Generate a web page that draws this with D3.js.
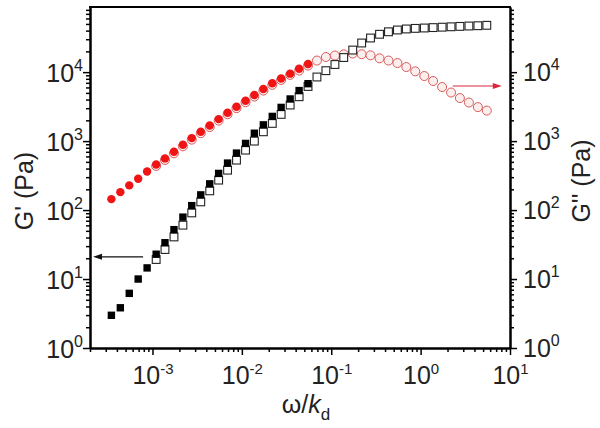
<!DOCTYPE html>
<html><head><meta charset="utf-8">
<script src="https://cdn.jsdelivr.net/npm/d3@7"></script>
<style>body{margin:0;background:#fff}svg{display:block}</style>
</head><body><svg id="c" width="600" height="428"></svg>
<script>
// ---- data ----
const omegaFilled = [3.47e-4, 4.37e-4, 5.50e-4, 6.92e-4, 8.71e-4, 1.10e-3, 1.38e-3, 1.74e-3, 2.19e-3, 2.75e-3,
  3.47e-3, 4.37e-3, 5.50e-3, 6.92e-3, 8.71e-3, 0.0110, 0.0138, 0.0174, 0.0219, 0.0275, 0.0347, 0.0437, 0.0550];
const gPrimeFilled = [2.98, 3.83, 6.2, 10.0, 14.5, 22.9, 33.6, 52, 79, 116, 166, 240, 340, 480, 670, 925, 1300, 1720, 2280, 3080, 4080, 5400, 6800];
const gDoubleFilled = [144, 182, 228, 284, 363, 459, 561, 700, 884, 1106, 1366, 1680, 2085, 2575, 3150, 3850, 4650, 5690, 6900, 8100, 9500, 11200, 13100];

const omegaOpen = [1.10e-3, 1.38e-3, 1.74e-3, 2.19e-3, 2.75e-3, 3.47e-3, 4.37e-3, 5.50e-3, 6.92e-3, 8.71e-3,
  0.0110, 0.0138, 0.0174, 0.0219, 0.0275, 0.0347, 0.0437, 0.0550, 0.0692, 0.0871,
  0.110, 0.138, 0.174, 0.219, 0.275, 0.347, 0.437, 0.550, 0.692, 0.871,
  1.10, 1.38, 1.74, 2.19, 2.75, 3.47, 4.37, 5.50];
const gPrimeOpen = [19.2, 26.8, 40.8, 60.4, 91, 131.5, 190, 272, 379, 530, 740, 1000, 1365, 1806, 2440, 3335, 4400, 6200, 8500, 10500,
  12900, 16280, 20900, 26450, 31250, 35400, 38470, 40850, 42250, 43100, 43650, 44250, 44850, 45450, 46050, 46650, 47100, 47750];
const gDoubleOpen = [436, 533, 666, 840, 1050, 1300, 1600, 1980, 2450, 3000, 3660, 4420, 5400, 6540, 7700, 9120, 10550, 12450, 14730, 16560,
  17410, 18130, 18620, 18190, 17530, 15870, 14730, 13550, 11850, 10270, 8780, 7430, 6080, 5060, 4210, 3620, 3110, 2770];

const xMajorTicks = [1e-3, 1e-2, 1e-1, 1, 10];
const xTickExp = ["-3", "-2", "-1", "0", "1"];
const yMajorTicks = [1, 10, 100, 1000, 10000];
const yTickExp = ["0", "1", "2", "3", "4"];

// annotation arrows: [from omega, to omega, at modulus]
const arrowLeft = [7.85e-4, 2.16e-4, 21];
const arrowRight = [2.29, 8.1, 6290];

// ---- chart ----
const L = 90, R = 510, T = 7, B = 348;
const FONT = "Arial, 'Liberation Sans', sans-serif";
const svg = d3.select("#c");
const x = d3.scaleLog().domain([2e-4, 10]).range([L, R]);
const y = d3.scaleLog().domain([1, 8.8e4]).range([B, T]);

const isPow = v => Math.abs(Math.log10(v) - Math.round(Math.log10(v))) < 1e-6;
const xMinor = x.ticks().filter(v => !isPow(v));
const yMinor = y.ticks().filter(v => !isPow(v));

function styleAxis(g) {
  g.select(".domain").attr("stroke", "#000").attr("stroke-width", 2);
  g.selectAll(".tick line").attr("stroke", "#000").attr("stroke-width", 1.5);
}

// minor ticks
svg.append("g").attr("transform", `translate(0,${B})`)
  .call(d3.axisBottom(x).tickValues(xMinor).tickSize(4).tickSizeOuter(0).tickFormat(""))
  .call(styleAxis);
svg.append("g").attr("transform", `translate(${L},0)`)
  .call(d3.axisLeft(y).tickValues(yMinor).tickSize(4).tickSizeOuter(0).tickFormat(""))
  .call(styleAxis);
svg.append("g").attr("transform", `translate(${R},0)`)
  .call(d3.axisRight(y).tickValues(yMinor).tickSize(4).tickSizeOuter(0).tickFormat(""))
  .call(styleAxis);

// major ticks with 10^n labels
function powLabel(sel, exps, vals, expSize, expDy) {
  sel.selectAll(".tick text").each(function(d) {
    const i = vals.indexOf(d);
    const t = d3.select(this).text(null).attr("font-family", FONT).attr("fill", "#222");
    t.append("tspan").attr("font-size", 25).text("10");
    t.append("tspan").attr("font-size", expSize).attr("dy", expDy).text(exps[i]);
  });
}
const gx = svg.append("g").attr("transform", `translate(0,${B})`)
  .call(d3.axisBottom(x).tickValues(xMajorTicks).tickSize(7).tickSizeOuter(0).tickPadding(0))
  .call(styleAxis);
powLabel(gx, xTickExp, xMajorTicks, 15, -10);
gx.selectAll(".tick text").attr("dy", null).attr("y", 36).attr("text-anchor", "middle");

const gyl = svg.append("g").attr("transform", `translate(${L},0)`)
  .call(d3.axisLeft(y).tickValues(yMajorTicks).tickSize(7).tickSizeOuter(0))
  .call(styleAxis);
powLabel(gyl, yTickExp, yMajorTicks, 16, -11);
gyl.selectAll(".tick text").attr("dy", null).attr("y", 9).attr("x", -7).attr("text-anchor", "end");

const gyr = svg.append("g").attr("transform", `translate(${R},0)`)
  .call(d3.axisRight(y).tickValues(yMajorTicks).tickSize(7).tickSizeOuter(0))
  .call(styleAxis);
powLabel(gyr, yTickExp, yMajorTicks, 16, -11);
gyr.selectAll(".tick text").attr("dy", null).attr("y", 8).attr("x", 13).attr("text-anchor", "start");

// top frame
svg.append("line").attr("x1", L - 1).attr("x2", R + 1).attr("y1", T).attr("y2", T)
  .attr("stroke", "#000").attr("stroke-width", 2);

// ---- marks ----
const openIdx = d3.range(omegaOpen.length);
const filledIdx = d3.range(omegaFilled.length);

// open circles G''
svg.append("g").selectAll("circle").data(openIdx).join("circle")
  .attr("cx", i => x(omegaOpen[i])).attr("cy", i => y(gDoubleOpen[i])).attr("r", 4.5)
  .attr("fill", "#fdeeee").attr("stroke", "#d85a5a").attr("stroke-width", 1);
// open squares G'
const sq = 7.8;
svg.append("g").selectAll("rect").data(openIdx).join("rect")
  .attr("x", i => x(omegaOpen[i]) - sq / 2).attr("y", i => y(gPrimeOpen[i]) - sq / 2)
  .attr("width", sq).attr("height", sq)
  .attr("fill", "#fff").attr("stroke", "#222").attr("stroke-width", 1.1);
// filled circles G''
svg.append("g").selectAll("circle").data(filledIdx).join("circle")
  .attr("cx", i => x(omegaFilled[i])).attr("cy", i => y(gDoubleFilled[i])).attr("r", 4.2)
  .attr("fill", "#f01414");
// filled squares G'
svg.append("g").selectAll("rect").data(filledIdx).join("rect")
  .attr("x", i => x(omegaFilled[i]) - 3.7).attr("y", i => y(gPrimeFilled[i]) - 3.7)
  .attr("width", 7.4).attr("height", 7.4).attr("fill", "#000");

// ---- arrows ----
function arrow(a, color) {
  const x0 = x(a[0]), x1 = x(a[1]), yy = y(a[2]);
  const dir = Math.sign(x1 - x0);
  svg.append("line").attr("x1", x0).attr("x2", x1 - dir * 6).attr("y1", yy).attr("y2", yy)
    .attr("stroke", color).attr("stroke-width", 1.2);
  svg.append("path").attr("d", `M${x1},${yy}L${x1 - dir * 9},${yy - 3}L${x1 - dir * 9},${yy + 3}Z`)
    .attr("fill", color);
}
arrow(arrowLeft, "#111");
arrow(arrowRight, "#d8283a");

// ---- titles ----
svg.append("text").attr("transform", "translate(33,191) rotate(-90)")
  .attr("text-anchor", "middle").attr("font-family", FONT).attr("font-size", 25).attr("fill", "#222")
  .text("G' (Pa)");
svg.append("text").attr("transform", "translate(590,181) rotate(-90)")
  .attr("text-anchor", "middle").attr("font-family", FONT).attr("font-size", 25).attr("fill", "#222")
  .text("G'' (Pa)");
const xt = svg.append("text").attr("x", 306).attr("y", 413).attr("text-anchor", "middle")
  .attr("font-family", FONT).attr("font-size", 25).attr("fill", "#222");
xt.append("tspan").text("ω/");
xt.append("tspan").attr("font-style", "italic").text("k");
xt.append("tspan").attr("font-size", 17).attr("dy", 7).text("d");
</script>
</body></html>
